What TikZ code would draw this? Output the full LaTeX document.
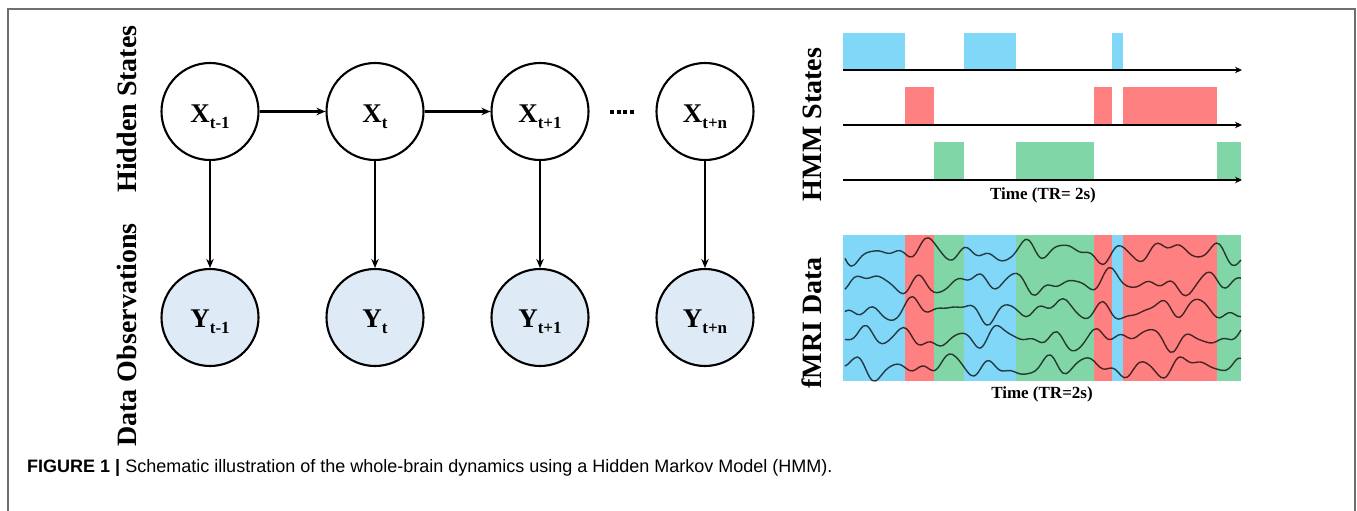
\documentclass[tikz,border=0pt]{standalone}
\usepackage{fontspec}
\setmainfont{Liberation Serif}
\setsansfont{Liberation Sans}
\usetikzlibrary{arrows.meta}
\definecolor{stblue}{RGB}{128,215,248}
\definecolor{stred}{RGB}{255,128,128}
\definecolor{stgreen}{RGB}{128,214,166}
\definecolor{framegray}{RGB}{110,110,110}
\definecolor{obsfill}{RGB}{222,234,246}
\newcommand\subtxt[1]{\raisebox{-6pt}{\fontsize{17}{17}\selectfont #1}}
\tikzset{
  hidden/.style={circle, draw, line width=2.1pt, minimum size=97pt, inner sep=0pt},
  observed/.style={hidden, fill=obsfill},
  varlab/.style={font=\fontsize{27}{27}\selectfont\bfseries, anchor=base, inner sep=0pt},
  sidelab/.style={font=\fontsize{28}{28}\selectfont\bfseries, rotate=90, inner sep=0pt},
  timelab/.style={font=\fontsize{17}{17}\selectfont\bfseries, inner sep=0pt},
  edge/.style={line width=2.4pt, -{Stealth[length=9pt,width=7.5pt]}},
  axisline/.style={line width=2.4pt, -{Stealth[length=7pt,width=6.5pt]}},
  sig/.style={line width=1.4pt, black, opacity=0.72, line join=round},
}
\begin{document}
\begin{tikzpicture}[x=1pt, y=-1pt]
\path[use as bounding box] (0,0) rectangle (1357,511);
% open frame
\draw[framegray, line width=1.6pt] (8,511) -- (8,9) -- (1355,9) -- (1355,511);

% ---- graphical model ----
\foreach \n/\x in {1/210, 2/375, 3/540, 4/705} {
  \node[hidden]   (x\n) at (\x,111.5) {};
  \node[observed] (y\n) at (\x,317.5) {};
}
\node[varlab] (xl1) at ([yshift=-10.5pt]x1.center) {X\subtxt{t-1}};
\node[varlab] (xl2) at ([yshift=-10.5pt]x2.center) {X\subtxt{t}};
\node[varlab] (xl3) at ([yshift=-10.5pt]x3.center) {X\subtxt{t+1}};
\node[varlab] (xl4) at ([yshift=-10.5pt]x4.center) {X\subtxt{t+n}};
\node[varlab] (yl1) at ([yshift=-9.5pt]y1.center) {Y\subtxt{t-1}};
\node[varlab] (yl2) at ([yshift=-9.5pt]y2.center) {Y\subtxt{t}};
\node[varlab] (yl3) at ([yshift=-9.5pt]y3.center) {Y\subtxt{t+1}};
\node[varlab] (yl4) at ([yshift=-9.5pt]y4.center) {Y\subtxt{t+n}};

\draw[edge] (x1) -- (x2);
\draw[edge] (x2) -- (x3);
\foreach \n in {1,2,3,4} { \draw[edge] (x\n) -- (y\n); }

\coordinate (d1) at (610,112);
\coordinate (d2) at (634,112);
\draw[line width=3.2pt, dash pattern=on 4pt off 2.7pt] (d1) -- (d2);

\node[sidelab] (hs) at (127,109) {Hidden States};
\node[sidelab] (do) at (127,335) {Data Observations};

% ---- HMM state sequence ----
\node[sidelab] (hmm) at (812,124.5) {HMM States};
\fill[stblue]  (843,33) rectangle (905,70);
\fill[stblue]  (964,33) rectangle (1016,70);
\fill[stblue]  (1112,33) rectangle (1123,70);
\fill[stred]   (905,87) rectangle (934,125);
\fill[stred]   (1094,87) rectangle (1112,125);
\fill[stred]   (1123,87) rectangle (1217,125);
\fill[stgreen] (934,142) rectangle (964,180);
\fill[stgreen] (1016,142) rectangle (1094,180);
\fill[stgreen] (1217,142) rectangle (1241,180);
\coordinate (a1s) at (843,70);  \coordinate (a1e) at (1242,70);
\coordinate (a2s) at (843,125); \coordinate (a2e) at (1242,125);
\coordinate (a3s) at (843,180); \coordinate (a3e) at (1242,180);
\draw[axisline] (a1s) -- (a1e);
\draw[axisline] (a2s) -- (a2e);
\draw[axisline] (a3s) -- (a3e);
\node[timelab] (t1) at (1043,195) {Time (TR= 2s)};

% ---- fMRI signals coloured by state ----
\node[sidelab] (fm) at (812,323) {fMRI Data};
\foreach \a/\b/\c in {843/905/stblue, 905/934/stred, 934/964/stgreen, 964/1016/stblue,
  1016/1094/stgreen, 1094/1112/stred, 1112/1123/stblue, 1123/1217/stred, 1217/1241/stgreen} {
  \fill[\c] (\a,235) rectangle (\b,381);
}
\foreach \base/\p in {252/0.3, 283/1.7, 310/2.9, 338/4.1, 367/5.3} {
  \draw[sig] plot[smooth, domain=0:396, samples=130, variable=\t]
    ({845+\t}, {\base + 6*sin(7.5*\t+40*\p) + 4.5*sin(11.3*\t+90*\p) + 4*sin(2.9*\t+130*\p) + 1.5*sin(17*\t+70*\p)});
}
\node[timelab] (t2) at (1042,394) {Time (TR=2s)};

% ---- caption ----
\node[anchor=base west, inner sep=0pt, font=\sffamily\fontsize{18}{18}\selectfont] (cap) at (27,472)
  {\textbf{FIGURE 1 |} Schematic illustration of the whole-brain dynamics using a Hidden Markov Model (HMM).};
\end{tikzpicture}
\end{document}
